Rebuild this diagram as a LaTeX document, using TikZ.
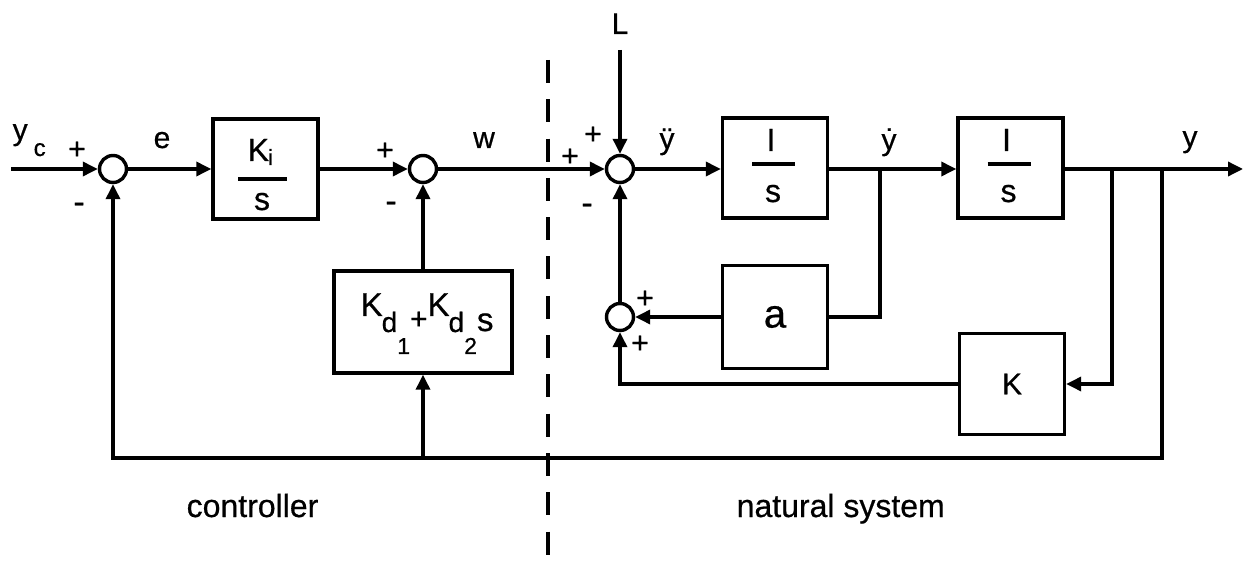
\documentclass[tikz,border=0pt]{standalone}
\usepackage{fontspec}
\setmainfont{Liberation Sans}[FakeBold=0.6]
\usetikzlibrary{arrows.meta,calc}
\newcommand{\fsz}[1]{\fontsize{#1}{#1}\selectfont}
\begin{document}
\begin{tikzpicture}[x=1pt,y=-1pt,
  line width=3.4pt,
  sig/.style={-{Triangle[length=15pt,width=14pt]}},
  sumj/.style={circle,draw,minimum size=27pt,inner sep=0pt},
  blk/.style={rectangle,draw,inner sep=0pt,minimum width=105pt,minimum height=100pt},
  lab/.style={font=\fsz{30},anchor=base,inner sep=0pt},
  sgn/.style={font=\fsz{30},anchor=base,inner sep=0pt},
  mns/.style={font=\fsz{34},anchor=base,inner sep=0pt},
  btxt/.style={font=\fsz{32},anchor=base,inner sep=0pt},
  big/.style={font=\fsz{32},anchor=base west,inner sep=0pt},
  divider/.style={dash pattern=on 23pt off 16.3pt},
]
\useasboundingbox (0,0) rectangle (1243,561);

% junctions and blocks
\node[sumj] (s1) at (113,169) {};
\node[blk] (ki) at (265.5,169) {};
\node[sumj] (s2) at (423,169) {};
\node[sumj] (s3) at (620,169) {};
\node[blk] (i1) at (775,168) {};
\node[blk] (i2) at (1010.5,168) {};
\node[sumj] (s4) at (620,317) {};
\node[blk,minimum height=103pt,font=\fsz{40}] (ab) at (775,317) {a};
\node[blk,minimum height=101pt,font=\fsz{30}] (kb) at (1012,384) {K};
\node[rectangle,draw,inner sep=0pt,minimum width=178pt,minimum height=102pt] (kd) at (423,322) {};

% block contents
\node[btxt,anchor=base west] (kin) at (246,161) {K\hspace{-1pt}\raisebox{-4pt}{\fsz{22}i}};
\draw (238,179) -- (287,179);
\node[btxt] (kis) at (262,210) {s};
\node[btxt] (i1n) at (771,151) {I};
\draw (752,164) -- (795,164);
\node[btxt] (i1s) at (773,202) {s};
\node[btxt] (i2n) at (1006.5,151) {I};
\draw (987.5,164) -- (1030.5,164);
\node[btxt] (i2s) at (1008.5,202) {s};
\node[anchor=base west,inner sep=0pt,font=\fsz{33}] (kdt) at (359,316)
  {K\hspace{-1pt}\raisebox{-16pt}{\fsz{28}d}\raisebox{-38pt}{\fsz{23}1}\raisebox{-13pt}{\fsz{30}+}K\hspace{-1pt}\raisebox{-16pt}{\fsz{28}d}\raisebox{-38pt}{\fsz{23}2}\raisebox{-15pt}{s}};

% main path
\coordinate (in) at (11,169);
\coordinate (out) at (1243,169);
\coordinate (Ltop) at (620,50);
\coordinate (yd) at (880,169);
\coordinate (yb1) at (1112,169);
\coordinate (yb2) at (1162,169);
\coordinate (bl) at (1162,458);
\coordinate (kdb) at (423,458);
\draw[sig] (in) -- (s1);
\draw[sig] (s1) -- (ki);
\draw[sig] (ki) -- (s2);
\draw[sig] (s2) -- (s3);
\draw[sig] (s3) -- (i1.west |- s3);
\draw[sig] (i1.east |- s3) -- (i2.west |- s3);
\draw[sig] (i2.east |- s3) -- (out);
\draw[sig] (Ltop) -- (s3);
% inner loops
\draw (yd) |- (ab.east);
\draw[sig] (ab) -- (s4);
\draw[sig] (s4) -- (s3);
\draw[sig] (yb1) |- (kb.east);
\draw[sig] (kb.west) -| (s4);
% outer loop
\draw[sig] (yb2) -- (bl) -| (s1);
\draw[sig] (kdb) -- (kd);
\draw[sig] (kd) -- (s2);

% divider
\coordinate (dt) at (548,60);
\coordinate (db) at (548,556);
\draw[divider] (dt) -- (db);

% signal labels
\node[lab,anchor=base west] (yc) at (11,140) {y\hspace{6pt}\raisebox{-16pt}{\fsz{24}c}};
\node[lab] (le) at (162,148) {e};
\node[lab] (lw) at (484,148) {w};
\node[lab] (lydd) at (667,149) {\"y};
\node[lab] (lyd) at (889,150) {\.y};
\node[lab] (ly) at (1190,147) {y};
\node[lab,font=\fsz{30}] (lL) at (620,34) {L};

% signs
\node[sgn] (p1) at (77,159) {+};
\node[mns] (m1) at (79,213) {-};
\node[sgn] (p2) at (385,160) {+};
\node[mns] (m2) at (391,212) {-};
\node[sgn] (p3a) at (570,166) {+};
\node[sgn] (p3b) at (593,144) {+};
\node[mns] (m3) at (587,214) {-};
\node[sgn] (p4a) at (645,308) {+};
\node[sgn] (p4b) at (640,353) {+};

% region labels
\node[big] (lc) at (185,517) {controller};
\node[big] (ln) at (735,517) {natural system};
\end{tikzpicture}
\end{document}
